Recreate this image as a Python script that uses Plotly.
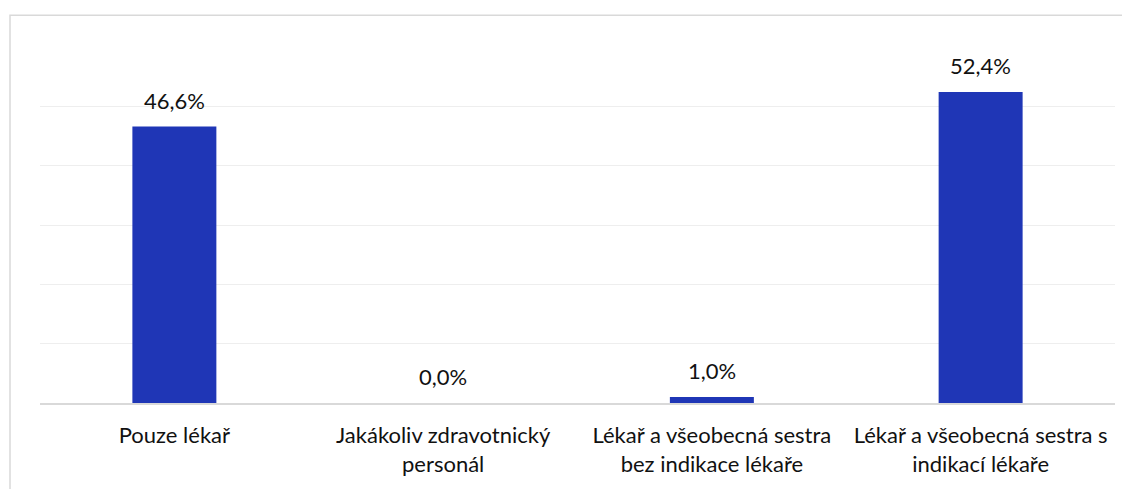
import plotly.graph_objects as go

categories = [
    "Pouze lékař",
    "Jakákoliv zdravotnický<br>personál",
    "Lékař a všeobecná sestra<br>bez indikace lékaře",
    "Lékař a všeobecná sestra s<br>indikací lékaře",
]
values = [46.6, 0.0, 1.0, 52.4]
labels = ["46,6%", "0,0%", "1,0%", "52,4%"]

# page body has an 8px margin; figure occupies window pixels 8..1130 x 8..489
OFF = 8
W, H = 1130 - OFF, 489 - OFF
ml, mr, mt, mb = 40 - OFF, 15, 39, 82
pw, ph = W - ml - mr, H - mt - mb

fig = go.Figure()
fig.add_trace(go.Bar(
    x=categories, y=values,
    marker=dict(color="#1f36b6", line=dict(width=0)),
    hoverinfo="skip",
))

for c, v, t in zip(categories, values, labels):
    fig.add_annotation(x=c, y=v, text=t, showarrow=False, yanchor="bottom",
                       yshift=11, font=dict(size=22, color="#111111",
                                            family="Lato, Open Sans, sans-serif"))

def px_x(p):
    return (p - OFF - ml) / pw

def px_y(p):
    return (H - mb - (p - OFF)) / ph

fig.add_shape(type="rect", xref="paper", yref="paper",
              x0=px_x(10), x1=px_x(1145), y0=px_y(505), y1=px_y(15),
              line=dict(color="#d9d9d9", width=1.5), fillcolor="rgba(0,0,0,0)",
              layer="below")

fig.update_layout(
    width=W, height=H,
    margin=dict(l=ml, r=mr, t=mt, b=mb),
    paper_bgcolor="white", plot_bgcolor="white",
    bargap=0.6875,
    showlegend=False,
    font=dict(family="Lato, Open Sans, sans-serif", size=22, color="#111111"),
    xaxis=dict(showline=True, linecolor="#d9d9d9", linewidth=1.5,
               showgrid=False, ticks="", ticklabelstandoff=12,
               tickfont=dict(size=22)),
    yaxis=dict(range=[0, 60], dtick=10, showgrid=True, gridcolor="#eeeeee",
               gridwidth=1, showticklabels=False, zeroline=False, ticks=""),
)

fig.write_html("out.html")
